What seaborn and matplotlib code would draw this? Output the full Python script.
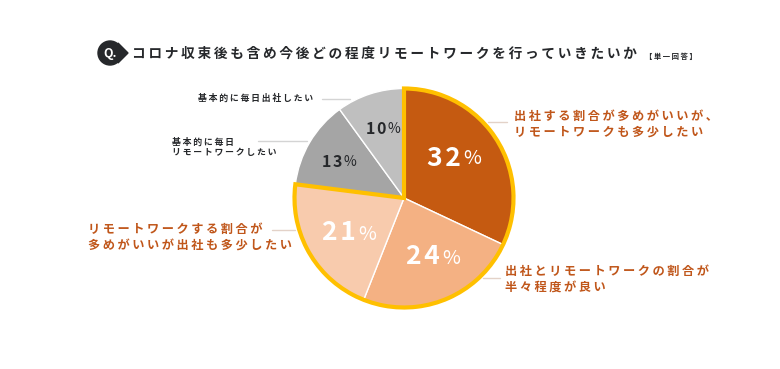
import matplotlib
matplotlib.use("Agg")
import matplotlib.pyplot as plt
from matplotlib.patches import Circle, Polygon
import seaborn as sns

# answers, clockwise from 12 o'clock
labels = ["出社する割合が多めがいいが、\nリモートワークも多少したい",
          "出社とリモートワークの割合が\n半々程度が良い",
          "リモートワークする割合が\n多めがいいが出社も多少したい",
          "基本的に毎日\nリモートワークしたい",
          "基本的に毎日出社したい"]
values = [32, 24, 21, 13, 10]
colors = ["#C55A11", "#F4B183", "#F8CBAD", "#A5A5A5", "#BFBFBF"]
title = "コロナ収束後も含め今後どの程度リモートワークを行っていきたいか"
subtitle = "【単一回答】"

sns.set_theme(style="white")
plt.rcParams["font.family"] = ["Noto Sans CJK JP", "DejaVu Sans"]

W, H = 780, 369
ORANGE = "#C0561A"
DARK = "#26282B"
GOLD = "#FFC000"


def spaced(s, gap="\u2009"):
    # the reference is letter spaced, thin space gets close to that
    return gap.join(s)


fig = plt.figure(figsize=(W / 100, H / 100), dpi=100)
ax = fig.add_axes([0, 0, 1, 1])

center = (404, H - 198)
radius = 109.5
palette = sns.color_palette(colors)

ax.pie(values, colors=palette, startangle=90, counterclock=False,
       center=center, radius=radius,
       wedgeprops={"edgecolor": "white", "linewidth": 1.0})

# gold outline goes round the three answers that include some office/remote mix
mixed = sum(values[:3])
rest = sum(values[3:])
outline, _ = ax.pie([mixed, rest], colors=["none", "none"], startangle=90,
                    counterclock=False, center=center, radius=radius,
                    wedgeprops={"edgecolor": GOLD, "linewidth": 3.0,
                                "joinstyle": "miter"})
outline[1].set_visible(False)

ax.set_xlim(0, W)
ax.set_ylim(0, H)
ax.set_aspect("equal")
ax.axis("off")


def put(x, y, s, **kw):
    return ax.text(x, H - y, s, va="center", **kw)


# percent labels, number and % sign are separate sizes
pct_pos = [(461, 158), (440, 257), (356, 233), (342, 162), (386, 129)]
for v, (x, y), c, big in zip(values, pct_pos,
                             ["white", "white", "white", DARK, DARK],
                             [True, True, True, False, False]):
    put(x, y, spaced(str(v), "\u200a"), ha="right", color=c, fontweight="bold",
        fontsize=19 if big else 11.5)
    put(x + 2, y + (1 if big else 0), "%", ha="left", color=c,
        fontweight="normal", fontsize=14 if big else 10)

# header
ax.add_patch(Circle((110, H - 53), 12, color=DARK, zorder=3))
ax.add_patch(Polygon([(118, H - 43), (128, H - 53), (118, H - 63)],
                     color=DARK, zorder=3))
put(110, 53, "Q.", ha="center", color="white", fontsize=9, fontweight="bold",
    zorder=4)
put(132, 54, spaced(title), ha="left", color=DARK, fontsize=9.85,
    fontweight="bold")
put(645, 56, spaced(subtitle), ha="left", color=DARK, fontsize=5.3,
    fontweight="bold")

# answer labels
label_pos = [(514, 124.5), (505, 279), (88, 237), (172, 147), (198, 98.5)]
for i, (lab, (x, y)) in enumerate(zip(labels, label_pos)):
    big = i < 3
    text = "\n".join(spaced(part) for part in lab.split("\n"))
    put(x, y, text, ha="left", color=ORANGE if big else DARK,
        fontsize=8.8 if big else 6.4, linespacing=1.28 if big else 1.2,
        fontweight="bold")

# leader lines
leaders = [(488, 507, 122), (483, 500, 278), (272, 295, 230),
           (258, 307, 141), (322, 350, 99)]
for i, (x0, x1, y) in enumerate(leaders):
    ax.plot([x0, x1], [H - y, H - y], lw=1.0, zorder=0,
            color="#E3D2C8" if i < 3 else "#D4D4D4")

fig.savefig("out.png", dpi=100, facecolor="white")
